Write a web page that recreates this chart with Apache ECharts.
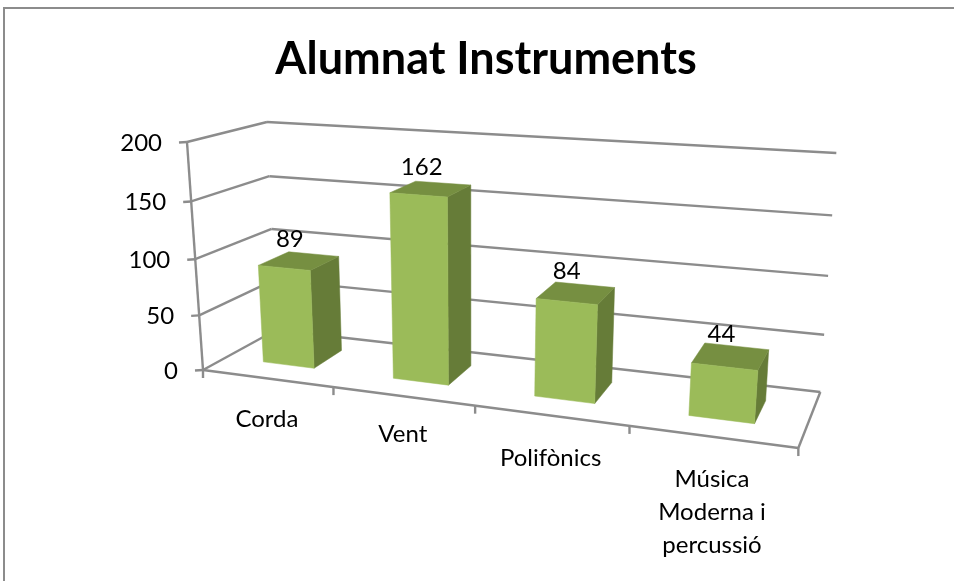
<!DOCTYPE html>
<html><head><meta charset="utf-8">
<style>html,body{margin:0;padding:0;background:#fff}#c{width:954px;height:581px}</style>
<script src="https://cdn.jsdelivr.net/npm/echarts@6/dist/echarts.min.js"></script>
</head><body><div id="c"></div>
<script>
const title = 'Alumnat Instruments';
const categories = ['Corda', 'Vent', 'Polifònics', 'Música\nModerna i\npercussió'];
const values = [89, 162, 84, 44];
const valueTicks = [0, 50, 100, 150, 200];
const categoryEdges = [0, 1, 2, 3, 4];
const FONT = 'Lato, Carlito, Calibri, sans-serif';

// Perspective "camera" of the 3D box: screen position of its eight corners.
const box = {
  fb: [[203, 370], [798, 448]], // front floor L,R
  bb: [[276, 330], [820, 392]], // back floor  L,R
  ft: [[187, 142], [818, 184]], // front top   L,R
  bt: [[267, 122], [836, 153]]  // back top    L,R
};
const persX = -0.0395, persXa = 117.3, persW = 0.058;
const labelGap = [24, 22, 26, 26];
const mix = (a, b, t) => [a[0] + (b[0] - a[0]) * t, a[1] + (b[1] - a[1]) * t];
// u: category units 0..4, v: depth 0..1, w: value share 0..1
function project(u, v, w) {
  const s = (((203 + persXa * u) / (1 + persX * u)) - 203) / 595;
  const wp = w / (1 + persW * (1 - w));
  const bottom = mix(mix(box.fb[0], box.fb[1], s), mix(box.bb[0], box.bb[1], s), v);
  const top = mix(mix(box.ft[0], box.ft[1], s), mix(box.bt[0], box.bt[1], s), v);
  return mix(bottom, top, wp);
}
// Read library scales: pixel in the hidden grid -> u / w
function toUnits(params, api, cat, val) {
  const p = api.coord([cat, val]);
  const c = params.coordSys;
  return { u: (p[0] - c.x) / c.width * categories.length, w: (c.y + c.height - p[1]) / c.height,
           band: api.size([1, 0])[0] / c.width * categories.length };
}
const LINE = { stroke: '#8c8c8c', lineWidth: 2.4, fill: null };
const seg = (a, b) => ({ type: 'line', shape: { x1: a[0], y1: a[1], x2: b[0], y2: b[1] }, style: LINE, silent: true });
const poly = (pts, fill) => ({ type: 'polygon', shape: { points: pts }, style: { fill: fill, stroke: fill, lineWidth: 0.5 } });
const txt = (text, x, y, align, va, lh) => ({ type: 'text', silent: true, style: {
  text: text, x: x, y: y, align: align, verticalAlign: va, fontFamily: FONT, fontSize: 24, lineHeight: lh || 28, fill: '#000' } });

const BAR_HALF = 0.2, V0 = 0.32, V1 = 0.74;

const option = {
  animation: false,
  backgroundColor: '#fff',
  title: { text: title, left: 481, top: 32, textAlign: 'center',
    textStyle: { fontFamily: FONT, fontWeight: 'bold', fontSize: 45, color: '#000' } },
  grid: { left: 200, top: 100, width: 600, height: 300, containLabel: false },
  xAxis: { type: 'category', data: categories, show: false },
  yAxis: { type: 'value', min: 0, max: 200, interval: 50, show: false },
  graphic: [{ type: 'rect', silent: true, shape: { x: 4, y: 8, width: 1000, height: 700 },
    style: { fill: 'none', stroke: '#8c8c8c', lineWidth: 2 } }],
  series: [
    { // value gridlines over the two walls, ticks and labels
      type: 'custom', silent: true,
      data: valueTicks.map(t => [0, t]),
      renderItem(params, api) {
        const q = toUnits(params, api, 0, api.value(1));
        const w = q.w;
        const a = project(0, 0, w), b = project(0, 1, w), c = project(4, 1, w);
        return { type: 'group', children: [
          seg(a, b), seg(b, c), seg([a[0] - 8, a[1] + 0.5], a),
          txt(String(api.value(1)), a[0] - 25, a[1] + 1, 'right', 'middle')
        ] };
      }
    },
    { // frame: value axis, floor front and side edges
      type: 'custom', silent: true,
      data: [[0, 0]],
      renderItem() {
        const fl = project(0, 0, 0), fr = project(4, 0, 0), br = project(4, 1, 0), tl = project(0, 0, 1);
        return { type: 'group', children: [seg(tl, fl), seg(fl, fr), seg(fr, br)] };
      }
    },
    { // category ticks
      type: 'custom', silent: true,
      data: categoryEdges.map(e => [e, 0]),
      renderItem(params, api) {
        const p = project(api.value(0), 0, 0);
        return seg(p, [p[0], p[1] + 8]);
      }
    },
    { // 3D bars
      type: 'custom',
      data: values.map((v, i) => [i, v]),
      renderItem(params, api) {
        const q = toUnits(params, api, api.value(0), api.value(1));
        const u0 = q.u - BAR_HALF * q.band * 1, u1 = q.u + BAR_HALF * q.band * 1, w = q.w;
        const A = project(u0, V0, 0), B = project(u1, V0, 0), C = project(u1, V1, 0);
        const E = project(u0, V0, w), F = project(u1, V0, w), G = project(u1, V1, w), H = project(u0, V1, w);
        const mid = project(q.u, (V0 + V1) / 2, w);
        return { type: 'group', children: [
          poly([B, C, G, F], '#667c38'),
          poly([E, F, G, H], '#768f41'),
          poly([A, B, F, E], '#9bbb59'),
          txt(String(api.value(1)), mid[0] - 9, mid[1] - 22, 'center', 'middle')
        ] };
      }
    },
    { // category labels
      type: 'custom', silent: true,
      data: categories.map((c, i) => [i, 0]),
      renderItem(params, api) {
        const i = api.value(0);
        const q = toUnits(params, api, i, 0);
        const p = project(q.u, 0, 0);
        return txt(categories[i], p[0], p[1] + labelGap[i], 'center', 'top', 33);
      }
    }
  ]
};
const chart = echarts.init(document.getElementById('c'));
chart.setOption(option);
</script></body></html>
